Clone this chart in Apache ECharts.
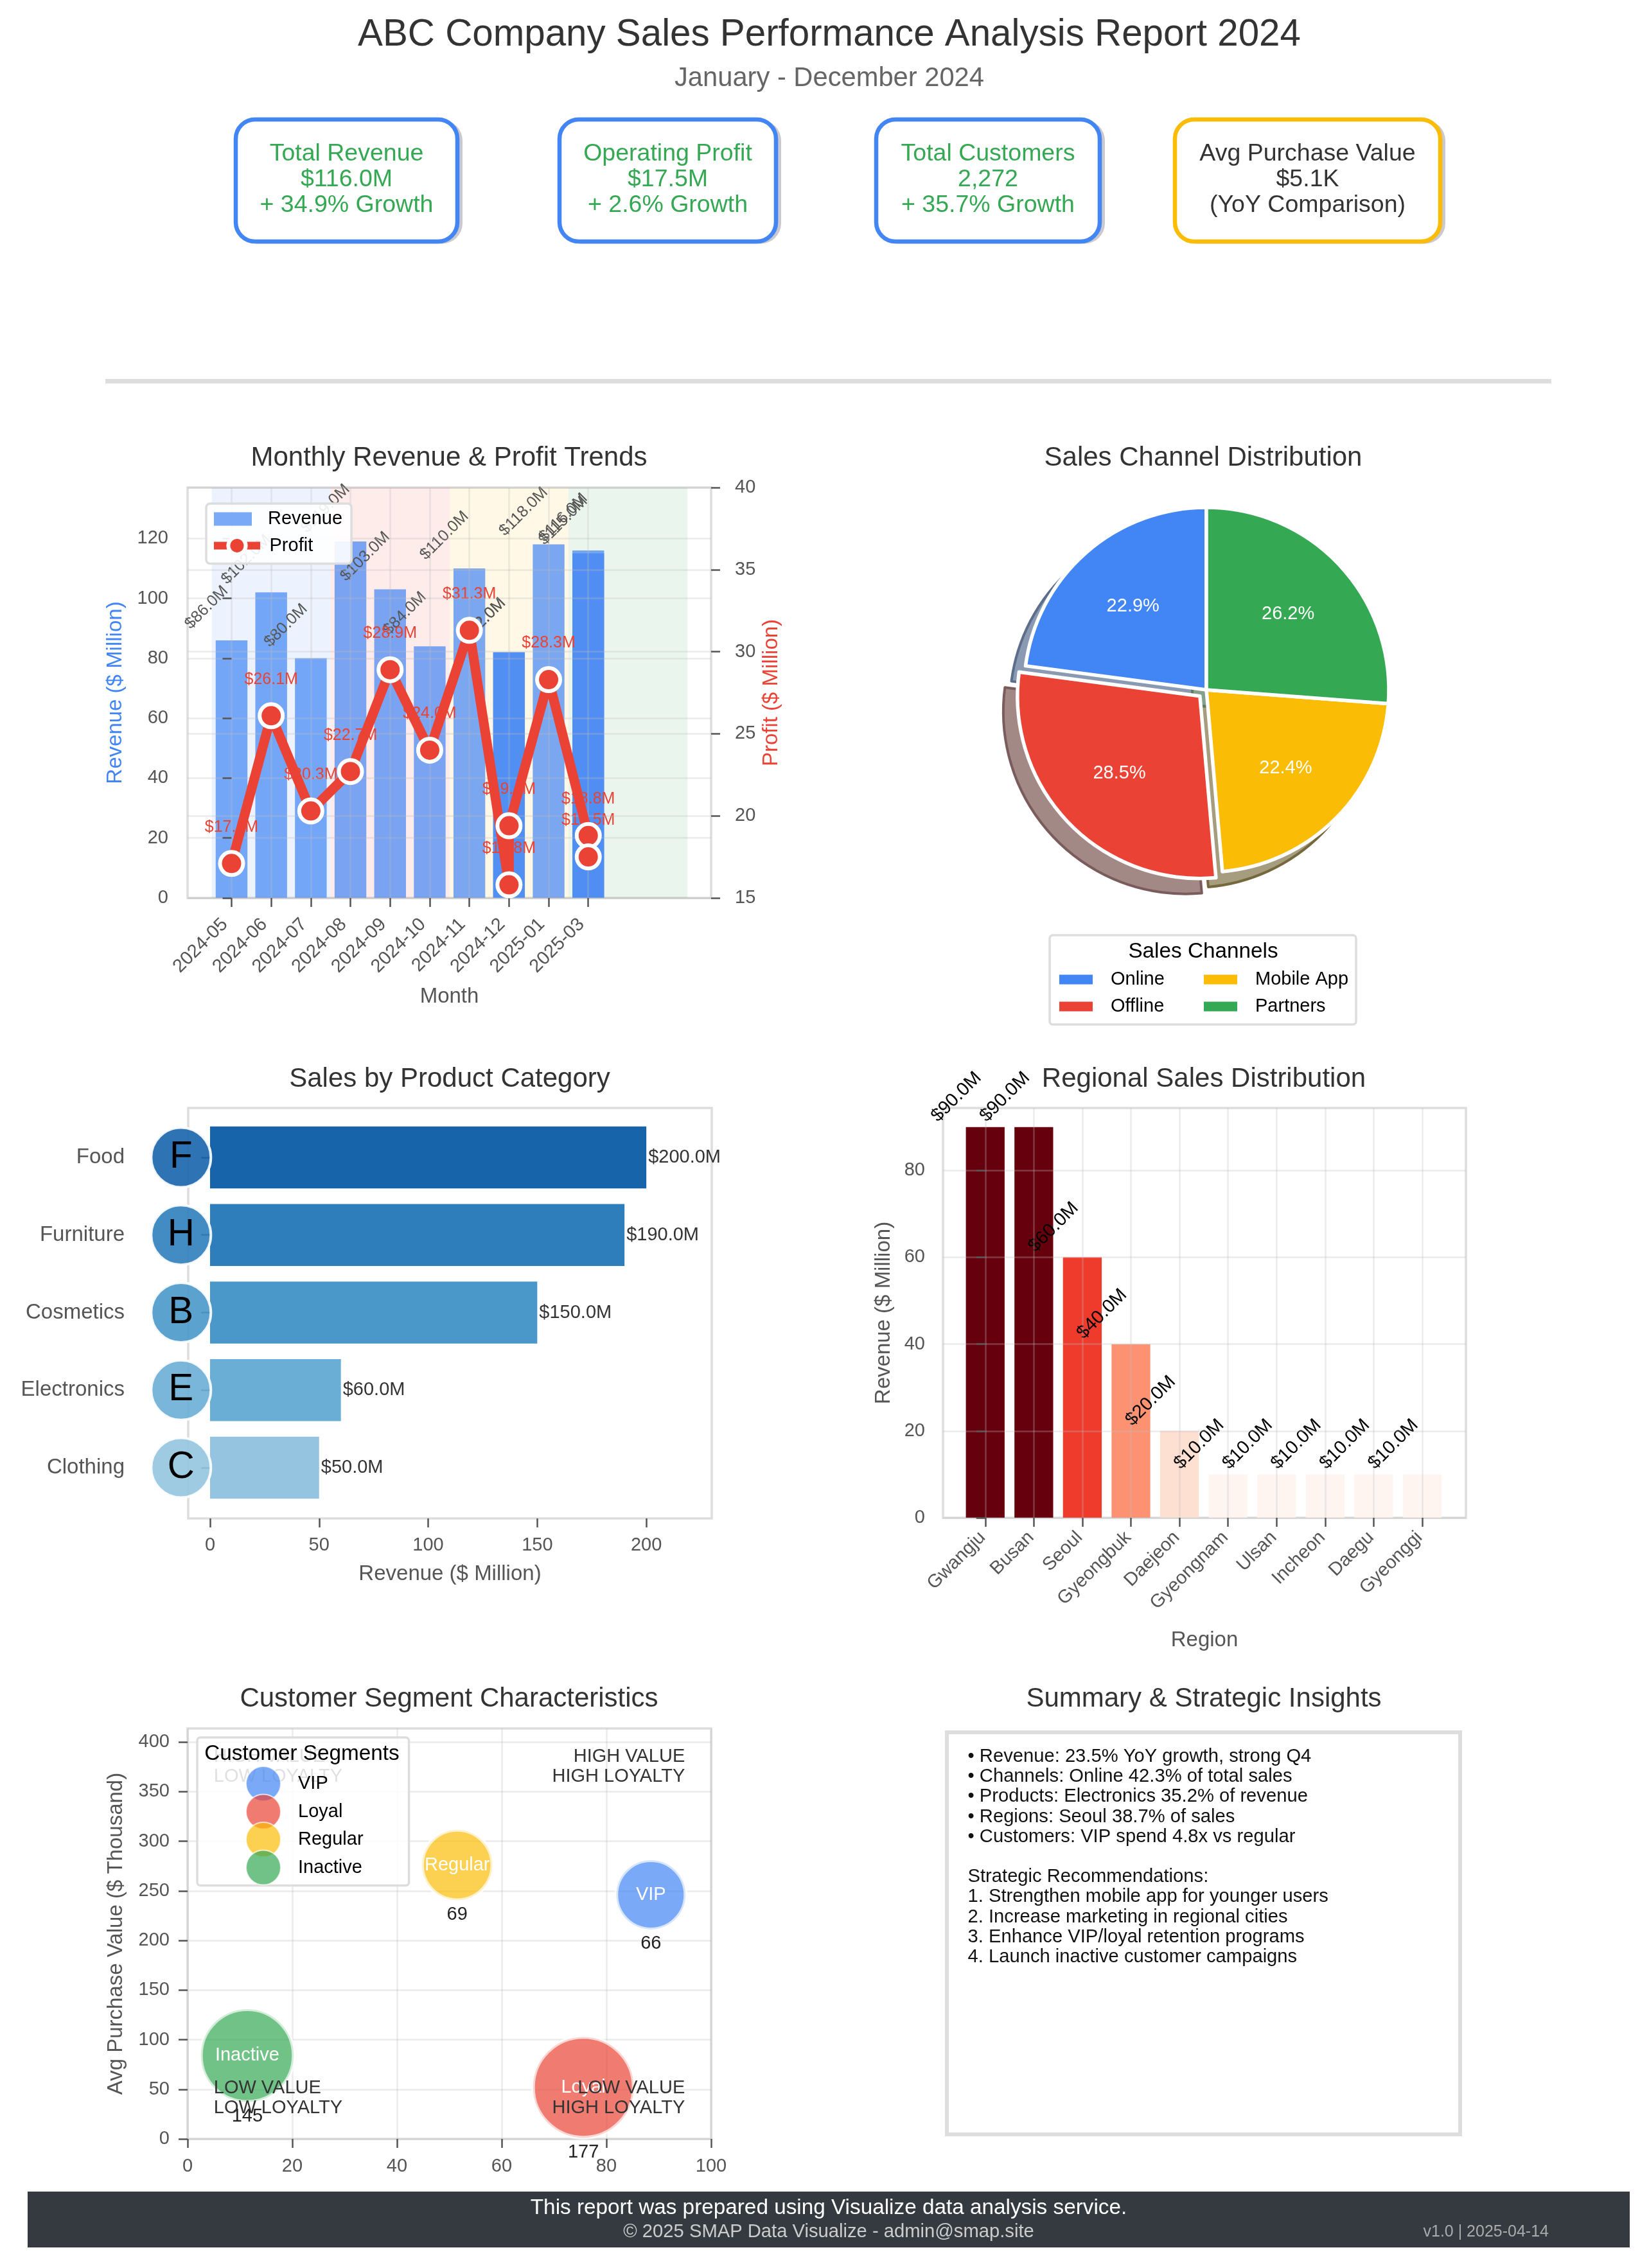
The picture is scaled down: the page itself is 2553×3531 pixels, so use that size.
<!DOCTYPE html>
<html><head><meta charset="utf-8"><title>ABC Company Sales Performance Analysis Report 2024</title>
<style>html,body{margin:0;padding:0;background:#fff}#c{width:2553px;height:3531px}</style>
<script src="https://cdn.jsdelivr.net/npm/echarts@6/dist/echarts.min.js"></script></head>
<body><div id="c"></div>
<script>
// ---------- data ----------
const reportTitle = 'ABC Company Sales Performance Analysis Report 2024';
const reportSubtitle = 'January - December 2024';
const kpiLabels = ['Total Revenue','Operating Profit','Total Customers','Avg Purchase Value'];
const kpiValues = ['$116.0M','$17.5M','2,272','$5.1K'];
const kpiNotes = ['+ 34.9% Growth','+ 2.6% Growth','+ 35.7% Growth','(YoY Comparison)'];

const monthCategories = ['2024-05','2024-06','2024-07','2024-08','2024-09','2024-10','2024-11','2024-12','2025-01','2025-03'];
const rowMonths = ['2024-05','2024-06','2024-07','2024-08','2024-09','2024-10','2024-11','2024-12','2024-12','2025-01','2025-03','2025-03'];
const rowRevenue = [86,102,80,119,103,84,110,82,82,118,116,115];
const rowProfit = [17.1,26.1,20.3,22.7,28.9,24.0,31.3,15.8,19.4,28.3,18.8,17.5];
const quarterEdges = [-0.5,2.5,5.5,8.5,11.5];
const revenueTicks = [0,20,40,60,80,100,120];
const profitTicks = [15,20,25,30,35,40];

const channelNames = ['Online','Offline','Mobile App','Partners'];
const channelShares = [22.9,28.5,22.4,26.2];

const productNames = ['Food','Furniture','Cosmetics','Electronics','Clothing'];
const productRevenue = [200,190,150,60,50];
const productInitials = ['F','H','B','E','C'];
const productTicks = [0,50,100,150,200];

const regionNames = ['Gwangju','Busan','Seoul','Gyeongbuk','Daejeon','Gyeongnam','Ulsan','Incheon','Daegu','Gyeonggi'];
const regionRevenue = [90,90,60,40,20,10,10,10,10,10];
const regionTicks = [0,20,40,60,80];

const segmentNames = ['VIP','Loyal','Regular','Inactive'];
const segmentLoyalty = [88.5,75.6,51.5,11.4];
const segmentValue = [246,52,276,84];
const segmentCounts = [66,177,69,145];
const loyaltyTicks = [0,20,40,60,80,100];
const valueTicks = [0,50,100,150,200,250,300,350,400];
const quadrantText = ['HIGH VALUE\nLOW LOYALTY','HIGH VALUE\nHIGH LOYALTY','LOW VALUE\nLOW LOYALTY','LOW VALUE\nHIGH LOYALTY'];
const quadrantLoyalty = [5,95,5,95];
const quadrantValue = [375,375,41,41];

const summaryLines = ['• Revenue: 23.5% YoY growth, strong Q4','• Channels: Online 42.3% of total sales','• Products: Electronics 35.2% of revenue','• Regions: Seoul 38.7% of sales','• Customers: VIP spend 4.8x vs regular','','Strategic Recommendations:','1. Strengthen mobile app for younger users','2. Increase marketing in regional cities','3. Enhance VIP/loyal retention programs','4. Launch inactive customer campaigns'];
const footerLines = ['This report was prepared using Visualize data analysis service.','© 2025 SMAP Data Visualize - admin@smap.site','v1.0 | 2025-04-14'];

// ---------- style ----------
const FONT='"Liberation Sans", Arial, Helvetica, sans-serif';
const BLUE='#4285F4',RED='#EA4335',YEL='#FBBC05',GRN='#34A853';
const INK='#333',TICK='#555',FRAME='#ddd',GRID='rgba(190,190,190,0.3)';
const channelColors=[BLUE,RED,YEL,GRN];
const shadowFill=['#8a9ab2','#a38986','#a69c7e','#85a08c'];
const shadowEdge=['#5c6e8a','#7a5c5c','#75683c','#5c7a66'];
const productColors=['#1764AB','#2E7EBC','#4A98C9','#6AAED6','#94C4DF'];
const productIconColors=['rgba(23,100,171,0.9)','rgba(46,126,188,0.9)','rgba(74,152,201,0.9)','rgba(106,174,214,0.9)','rgba(148,196,223,0.9)'];
const regionColors=['#67000D','#67000D','#EF3B2C','#FC9272','#FDE0D2','#FFF5F0','#FFF5F0','#FFF5F0','#FFF5F0','#FFF5F0'];
const segmentColors=['rgba(66,133,244,0.7)','rgba(234,67,53,0.7)','rgba(251,188,5,0.7)','rgba(52,168,83,0.7)'];
const bandColors=['rgba(66,133,244,0.1)','rgba(234,67,53,0.1)','rgba(251,188,5,0.1)','rgba(52,168,83,0.1)'];
const money=v=>'$'+v.toFixed(1)+'M';
const monthIndex=m=>monthCategories.indexOf(m);

const P1={l:292,t:759,w:815,h:639},P3={l:293,t:1725,w:815,h:639},P4={l:1468,t:1725,w:814,h:638},P5={l:292,t:2691,w:815,h:639};
const FS={title:42,axis:33,tick:29,small:25};

function gridOf(p,frame){return {left:p.l,top:p.t,width:p.w,height:p.h,show:!!frame,borderColor:FRAME,borderWidth:3.5,backgroundColor:'transparent',containLabel:false};}
function valAxis(o){
  const tickVals=o.ticks;
  const a={type:'value',min:o.min,max:o.max,gridIndex:o.grid,position:o.position,z:o.z||0,offset:o.offset||0,
    axisLine:{show:false},
    axisTick:{show:true,length:14,inside:false,customValues:tickVals,lineStyle:{color:TICK,width:2.5}},
    axisLabel:{show:true,customValues:tickVals,margin:o.margin||28,padding:o.padding||0,fontFamily:FONT,fontSize:FS.tick,color:o.labelColor||TICK,rotate:o.rotate||0,formatter:o.formatter||(v=>String(v))},
    splitLine:{show:o.split!==false,lineStyle:{color:GRID,width:2.5}},
    scale:false};
  if(o.name){a.name=o.name;a.nameLocation='middle';a.nameGap=o.nameGap;a.nameRotate=o.nameRotate;a.nameTextStyle={fontFamily:FONT,fontSize:FS.axis,color:o.nameColor||TICK};}
  return a;
}
function centerTitle(text,x,cy){return {text,left:x,top:cy-FS.title/2+2,textAlign:'center',padding:0,textStyle:{fontFamily:FONT,fontSize:FS.title,fontWeight:'normal',color:INK}};}

// ---------- decorations ----------
const kpiBoxes=[[367,186,345,190],[871,186,337,190],[1364,186,348,190],[1829,186,413,190]];
const kpiInk=[GRN,GRN,GRN,INK],kpiEdge=[BLUE,BLUE,BLUE,YEL];
const graphics=[];
kpiBoxes.forEach((b,i)=>{
  graphics.push({type:'rect',silent:true,z:1,shape:{x:b[0]+2,y:b[1]+1,width:b[2]+6,height:b[3]+2.5,r:32},style:{fill:'#c9c9cf'}});
  graphics.push({type:'rect',silent:true,z:2,shape:{x:b[0],y:b[1],width:b[2],height:b[3],r:30},style:{fill:'#fff',stroke:kpiEdge[i],lineWidth:6.5}});
  [kpiLabels[i],kpiValues[i],kpiNotes[i]].forEach((t,j)=>graphics.push({type:'text',silent:true,z:3,style:{text:t,x:b[0]+b[2]/2,y:240+j*40,fill:kpiInk[i],font:'37.5px '+FONT,textAlign:'center',textVerticalAlign:'middle'}}));
});
graphics.push({type:'rect',silent:true,shape:{x:164,y:590,width:2251,height:7},style:{fill:FRAME}});
graphics.push({type:'rect',silent:true,z:0,shape:{x:P3.l,y:P3.t,width:P3.w,height:P3.h},style:{fill:'none',stroke:FRAME,lineWidth:3.5}});
// pie legend box/title + summary + footer
graphics.push({type:'rect',silent:true,z:0,shape:{x:1634,y:1456,width:477,height:139,r:5},style:{fill:'#fff',stroke:FRAME,lineWidth:3.5}});
graphics.push({type:'text',silent:true,z:9,style:{text:'Sales Channels',x:1873,y:1482,fill:'#000',font:'33.3px '+FONT,textAlign:'center',textVerticalAlign:'middle'}});
graphics.push({type:'text',silent:true,z:9,style:{text:'Customer Segments',x:470,y:2731,fill:'#000',font:'33.3px '+FONT,textAlign:'center',textVerticalAlign:'middle'}});
graphics.push({type:'rect',silent:true,shape:{x:1474,y:2697,width:799,height:626},style:{fill:'#fff',stroke:FRAME,lineWidth:6}});
summaryLines.forEach((t,i)=>graphics.push({type:'text',silent:true,z:3,style:{text:t,x:1506.5,y:2735+i*31.2,fill:'#111',font:'29.2px '+FONT,textAlign:'left',textVerticalAlign:'middle'}}));
graphics.push({type:'rect',silent:true,shape:{x:43,y:3412,width:2494,height:87},style:{fill:'#343A40'}});
graphics.push({type:'text',silent:true,z:3,style:{text:footerLines[0],x:1290,y:3438,fill:'#fff',font:'33.3px '+FONT,textAlign:'center',textVerticalAlign:'middle'}});
graphics.push({type:'text',silent:true,z:3,style:{text:footerLines[1],x:1290,y:3475,fill:'#ccc',font:'29.2px '+FONT,textAlign:'center',textVerticalAlign:'middle'}});
graphics.push({type:'text',silent:true,z:3,style:{text:footerLines[2],x:2411,y:3475,fill:'#aaa',font:'25px '+FONT,textAlign:'right',textVerticalAlign:'middle'}});

// ---------- pie ----------
const PIE={x:1878,y:1074,r:284};
const pieData=(colors,edges,edgeW)=>channelNames.map((n,i)=>({name:n,value:channelShares[i],selected:n==='Offline',itemStyle:{color:colors[i],borderColor:edges,borderWidth:edgeW}}));
const shadowData=channelNames.map((n,i)=>({name:n,value:channelShares[i],selected:n==='Offline',itemStyle:{color:shadowFill[i],borderColor:shadowEdge[i],borderWidth:4}}));
const pieBase={type:'pie',startAngle:90,clockwise:false,selectedMode:'single',selectedOffset:14,silent:false,avoidLabelOverlap:false,animation:false,labelLine:{show:false},emphasis:{disabled:true}};
const channelLegend=(left,idx)=>({left,top:1510.5,padding:0,orient:'vertical',itemWidth:52,itemHeight:15,itemGap:13,selectedMode:false,
  textStyle:{fontFamily:FONT,fontSize:FS.tick,color:'#000',padding:[0,0,0,23]},
  data:idx.map(i=>({name:channelNames[i],icon:'rect',itemStyle:{color:channelColors[i],borderWidth:0}}))});

// ---------- options ----------
const option={
  animation:false,backgroundColor:'#fff',textStyle:{fontFamily:FONT},
  title:[
    {text:reportTitle,left:1291,top:53-27,textAlign:'center',padding:0,textStyle:{fontFamily:FONT,fontSize:58.3,fontWeight:'normal',color:INK}},
    {text:reportSubtitle,left:1291,top:121-19,textAlign:'center',padding:0,textStyle:{fontFamily:FONT,fontSize:41.7,fontWeight:'normal',color:'#666'}},
    centerTitle('Monthly Revenue & Profit Trends',699,711),
    centerTitle('Sales Channel Distribution',1873,711),
    centerTitle('Sales by Product Category',700,1678),
    centerTitle('Regional Sales Distribution',1874,1678),
    centerTitle('Customer Segment Characteristics',699,2643),
    centerTitle('Summary & Strategic Insights',1874,2643)
  ],
  grid:[gridOf(P1,true),{left:P3.l,width:P3.w,top:1741.6,height:603.8,show:false},gridOf(P4,true),gridOf(P5,true)],
  xAxis:[
    valAxis({grid:0,min:-1.11,max:12.1,z:3,ticks:monthCategories.map((m,i)=>i),rotate:45,margin:26,padding:[0,15,0,0],formatter:v=>monthCategories[v],name:'Month',nameGap:137}),
    valAxis({grid:1,min:-10,max:230,ticks:productTicks,split:false,offset:18.6,margin:27,name:'Revenue ($ Million)',nameGap:70}),
    valAxis({grid:2,min:-0.87,max:9.9,z:3,ticks:regionNames.map((m,i)=>i),rotate:45,margin:22,padding:[0,6,0,0],formatter:v=>regionNames[v],name:'Region',nameGap:174}),
    valAxis({grid:3,min:0,max:100,ticks:loyaltyTicks,margin:28})
  ],
  yAxis:[
    valAxis({grid:0,min:0,max:137,z:3,ticks:revenueTicks,position:'left',margin:30,name:'Revenue ($ Million)',nameGap:96,nameColor:BLUE}),
    valAxis({grid:0,min:15,max:40,z:3,ticks:profitTicks,position:'right',margin:37,name:'Profit ($ Million)',nameGap:77,nameRotate:90,nameColor:RED}),
    {type:'category',gridIndex:1,inverse:true,data:productNames,axisLine:{show:false},
      axisTick:{show:true,alignWithLabel:true,length:14,lineStyle:{color:TICK,width:2.5}},
      axisLabel:{margin:99,interval:0,fontFamily:FONT,fontSize:FS.axis,color:TICK},splitLine:{show:false}},
    valAxis({grid:2,min:0,max:94.4,z:3,ticks:regionTicks,position:'left',margin:28,name:'Revenue ($ Million)',nameGap:76}),
    valAxis({grid:3,min:0,max:413.6,ticks:valueTicks,position:'left',margin:28,name:'Avg Purchase Value ($ Thousand)',nameGap:95})
  ],
  legend:[
    {left:321,top:784,padding:[9.5,14,55,12],orient:'vertical',itemWidth:59,itemHeight:21,selectedMode:false,
      backgroundColor:'rgba(255,255,255,0.9)',borderColor:FRAME,borderWidth:3.5,borderRadius:6,
      textStyle:{fontFamily:FONT,fontSize:FS.tick,color:'#000',padding:[0,0,0,20]},
      data:[{name:'Revenue',icon:'rect',itemStyle:{color:'rgba(66,133,244,0.7)'}}]},
    {left:327,top:833,padding:0,z:5,orient:'vertical',itemWidth:72,itemHeight:34,selectedMode:false,
      textStyle:{fontFamily:FONT,fontSize:FS.tick,color:'#000',padding:[0,0,0,9.5]},
      data:[{name:'Profit',itemStyle:{color:RED,borderColor:'#fff',borderWidth:6},lineStyle:{color:RED,width:12}}]},
    channelLegend(1649,[0,1]),
    channelLegend(1874,[2,3]),
    {left:307,top:2705,padding:[44,71,0,75],orient:'vertical',itemWidth:54,itemHeight:54,itemGap:-12.5,selectedMode:false,
      backgroundColor:'rgba(255,255,255,0.85)',borderColor:FRAME,borderWidth:3.5,borderRadius:5,
      textStyle:{fontFamily:FONT,fontSize:FS.tick,color:'#000',padding:[0,0,0,22]},
      data:segmentNames.map(n=>({name:n,icon:'circle'}))}
  ],
  series:[
    // panel 1
    {type:'bar',name:'Revenue',xAxisIndex:0,yAxisIndex:0,z:2,barWidth:49.4,
      data:rowRevenue.map((v,i)=>[monthIndex(rowMonths[i]),v]),
      itemStyle:{color:'rgba(66,133,244,0.7)'},
      label:{show:true,position:'top',distance:0,rotate:45,align:'center',verticalAlign:'middle',offset:[8.6,-63.5],fontFamily:FONT,fontSize:FS.small,color:'#555',formatter:p=>money(p.value[1])},
      markArea:{silent:true,z:1,data:bandColors.map((c,i)=>[{xAxis:quarterEdges[i],itemStyle:{color:c}},{xAxis:quarterEdges[i+1]}])}},
    {type:'scatter',name:'Profit labels',xAxisIndex:0,yAxisIndex:1,z:2.5,symbolSize:36,
      data:rowProfit.map((v,i)=>[monthIndex(rowMonths[i]),v]),
      itemStyle:{color:'rgba(0,0,0,0)',opacity:1},
      label:{show:true,position:'top',distance:26,fontFamily:FONT,fontSize:FS.small,color:RED,formatter:p=>money(p.value[1])}},
    {type:'line',name:'Profit',xAxisIndex:0,yAxisIndex:1,z:3,symbol:'circle',symbolSize:36,showSymbol:true,showAllSymbol:true,
      data:rowProfit.map((v,i)=>[monthIndex(rowMonths[i]),v]),
      lineStyle:{color:RED,width:15},itemStyle:{color:RED,borderColor:'#fff',borderWidth:6}},
    // pie
    Object.assign({},pieBase,{name:'Channel shadow',z:1,center:[PIE.x-22,PIE.y+24],radius:PIE.r,data:shadowData,label:{show:false}}),
    Object.assign({},pieBase,{name:'Channels',z:2,center:[PIE.x,PIE.y],radius:PIE.r,data:pieData(channelColors,'#fff',5.5),label:{show:false}}),
    Object.assign({},pieBase,{name:'Channel labels',z:3,center:[PIE.x,PIE.y],radius:PIE.r*1.2,
      data:channelNames.map((n,i)=>({name:n,value:channelShares[i],selected:n==='Offline',itemStyle:{color:'rgba(0,0,0,0)'}})),
      label:{show:true,position:'inside',fontFamily:FONT,fontSize:FS.tick,color:'#fff',formatter:p=>p.value.toFixed(1)+'%'}}),
    // panel 3
    {type:'bar',name:'Product revenue',xAxisIndex:1,yAxisIndex:2,z:2,barCategoryGap:'20%',
      data:productRevenue.map((v,i)=>({value:v,itemStyle:{color:productColors[i]}})),
      label:{show:true,position:'right',distance:3,fontFamily:FONT,fontSize:FS.tick,color:INK,formatter:p=>money(p.value)}},
    {type:'scatter',name:'Product initials',xAxisIndex:1,yAxisIndex:2,z:3,symbolSize:93,clip:false,
      data:productNames.map((n,i)=>({value:[-13.3,n],itemStyle:{color:productIconColors[i],opacity:1,borderColor:'rgba(255,255,255,0.9)',borderWidth:4},label:{formatter:productInitials[i]}})),
      label:{show:true,position:'inside',fontFamily:FONT,fontSize:58.3,color:'#000'}},
    // panel 4
    {type:'bar',name:'Region revenue',xAxisIndex:2,yAxisIndex:3,z:2,barWidth:60.3,
      data:regionRevenue.map((v,i)=>({value:[i,v],itemStyle:{color:regionColors[i]}})),
      label:{show:true,position:'top',distance:0,rotate:45,align:'center',verticalAlign:'middle',offset:[1.3,-64.8],fontFamily:FONT,fontSize:FS.tick,color:'#000',formatter:p=>money(p.value[1])}},
    // panel 5
    ...segmentNames.map((n,i)=>({type:'scatter',name:n,xAxisIndex:3,yAxisIndex:4,z:2,clip:false,
      symbolSize:Math.sqrt(117*segmentCounts[i]+3940),
      data:[[segmentLoyalty[i],segmentValue[i]]],
      itemStyle:{color:segmentColors[i],opacity:1,borderColor:'rgba(255,255,255,0.7)',borderWidth:6},
      label:{show:true,position:'inside',fontFamily:FONT,fontSize:FS.tick,color:'#fff',formatter:n}})),
    {type:'scatter',name:'Segment counts',xAxisIndex:3,yAxisIndex:4,z:2.5,clip:false,
      data:segmentNames.map((n,i)=>({value:[segmentLoyalty[i],segmentValue[i]],symbolSize:Math.sqrt(117*segmentCounts[i]+3940),label:{formatter:String(segmentCounts[i])}})),
      itemStyle:{color:'rgba(0,0,0,0)',opacity:1},
      label:{show:true,position:'bottom',distance:8,fontFamily:FONT,fontSize:FS.tick,color:'#222'}},
    {type:'scatter',name:'Quadrants',xAxisIndex:3,yAxisIndex:4,z:3,symbolSize:1,
      data:quadrantText.map((t,i)=>({value:[quadrantLoyalty[i],quadrantValue[i]],label:{formatter:t,align:quadrantLoyalty[i]<50?'left':'right'}})),
      itemStyle:{color:'rgba(0,0,0,0)',opacity:1},
      label:{show:true,position:'inside',distance:0,verticalAlign:'middle',lineHeight:31,fontFamily:FONT,fontSize:FS.tick,color:INK}}
  ],
  graphic:{elements:graphics}
};
const chart=echarts.init(document.getElementById('c'),null,{renderer:'canvas',width:2553,height:3531});
chart.setOption(option);
</script></body></html>
